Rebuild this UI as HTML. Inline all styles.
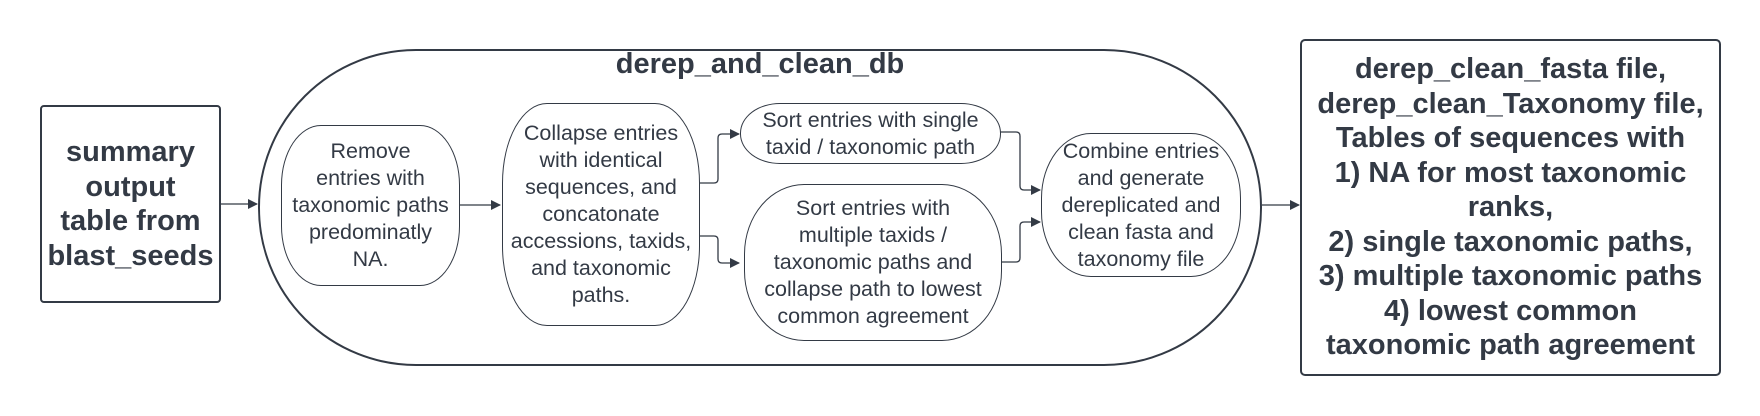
<!DOCTYPE html>
<html><head><meta charset="utf-8"><style>
body{margin:0;background:#fff;width:1760px;height:416px;position:relative;overflow:hidden;font-family:"Liberation Sans",sans-serif;color:#333a45}
.b{position:absolute;box-sizing:border-box;display:flex;align-items:center;justify-content:center;text-align:center;white-space:nowrap}
.n{border:1px solid #333a45;font-size:21.5px;line-height:27px}
.bold{font-weight:bold;font-size:29px;line-height:34.5px}
</style></head><body>
<svg width="1760" height="416" style="position:absolute;left:0;top:0">
<defs><marker id="a" markerWidth="10" markerHeight="10" refX="9" refY="5" orient="auto" markerUnits="userSpaceOnUse"><path d="M0,0 L10,5 L0,10 z" fill="#333a45"/></marker></defs>
<g fill="none" stroke="#333a45" stroke-width="1.3">
<path d="M221,204 H257" marker-end="url(#a)"/>
<path d="M460,205 H500" marker-end="url(#a)"/>
<path d="M700,183 H714 Q718,183 718,179 V138 Q718,134 722,134 H739" marker-end="url(#a)"/>
<path d="M700,236 H714 Q718,236 718,240 V259 Q718,263 722,263 H739" marker-end="url(#a)"/>
<path d="M1000,132 H1016 Q1020,132 1020,136 V186 Q1020,190 1024,190 H1040" marker-end="url(#a)"/>
<path d="M1002,262 H1016 Q1020,262 1020,258 V226 Q1020,222 1024,222 H1040" marker-end="url(#a)"/>
<path d="M1262,205 H1299" marker-end="url(#a)"/>
</g>
</svg>
<div class="b bold" style="left:40px;top:105px;width:181px;height:198px;border:2px solid #333a45;border-radius:4px">summary<br>output<br>table from<br>blast_seeds</div>
<div class="b" style="left:258px;top:49px;width:1004px;height:317px;border:2px solid #333a45;border-radius:158px"></div>
<div class="b bold" style="left:560px;top:46px;width:400px;height:36px">derep_and_clean_db</div>
<div class="b n" style="left:281px;top:125px;width:179px;height:161px;border-radius:40px / 60px">Remove<br>entries with<br>taxonomic paths<br>predominatly<br>NA.</div>
<div class="b n" style="left:502px;top:103px;width:198px;height:223px;border-radius:45px / 80px">Collapse entries<br>with identical<br>sequences, and<br>concatonate<br>accessions, taxids,<br>and taxonomic<br>paths.</div>
<div class="b n" style="left:740px;top:103px;width:261px;height:61px;border-radius:40px / 30px">Sort entries with single<br>taxid / taxonomic path</div>
<div class="b n" style="left:744px;top:184px;width:258px;height:157px;border-radius:60px / 70px">Sort entries with<br>multiple taxids /<br>taxonomic paths and<br>collapse path to lowest<br>common agreement</div>
<div class="b n" style="left:1041px;top:133px;width:200px;height:144px;border-radius:50px / 65px">Combine entries<br>and generate<br>dereplicated and<br>clean fasta and<br>taxonomy file</div>
<div class="b bold" style="left:1300px;top:39px;width:421px;height:337px;border:2px solid #333a45;border-radius:5px">derep_clean_fasta file,<br>derep_clean_Taxonomy file,<br>Tables of sequences with<br>1) NA for most taxonomic<br>ranks,<br>2) single taxonomic paths,<br>3) multiple taxonomic paths<br>4) lowest common<br>taxonomic path agreement</div>
</body></html>
